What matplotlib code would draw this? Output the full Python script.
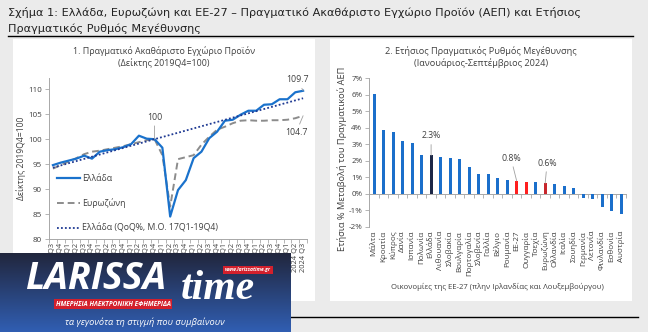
import numpy as np
import matplotlib
matplotlib.use('Agg')
import matplotlib.pyplot as plt
from matplotlib.patches import Rectangle
from matplotlib.lines import Line2D

plt.rcParams['font.family'] = ['Open Sans', 'DejaVu Sans']

# ---- δεδομένα: γράφημα 1 (δείκτης 2019Q4=100) ----
quarters = [f"{2016 + (q + 2) // 4} Q{(q + 2) % 4 + 1}" for q in range(33)]
greece = [94.8, 95.3, 95.7, 96.1, 96.7, 96.1, 97.5, 97.8, 98.0, 98.4, 99.0,
          100.7, 100.1, 100.0, 98.3, 84.5, 89.8, 91.8, 96.2, 97.5, 100.2,
          101.5, 103.7, 103.9, 104.9, 105.7, 105.7, 106.9, 107.0, 108.0,
          108.0, 109.4, 109.7]
eurozone = [94.1, 94.8, 95.5, 96.2, 97.0, 97.5, 97.7, 98.0, 98.3, 98.6, 99.0,
            99.4, 99.8, 100.0, 96.8, 86.5, 96.0, 96.4, 96.8, 98.9, 100.5,
            101.9, 102.5, 103.2, 103.7, 103.8, 103.7, 103.7, 103.8, 103.8,
            103.9, 104.2, 104.7]
trend_idx = [0, 13, 32]
trend_val = [94.3, 100.0, 108.2]

# ---- δεδομένα: γράφημα 2 (ετήσια % μεταβολή) ----
countries = ['Μάλτα', 'Κροατία', 'Κύπρος', 'Δανία', 'Ισπανία', 'Πολωνία',
             'Ελλάδα', 'Λιθουανία', 'Σλοβακία', 'Βουλγαρία', 'Πορτογαλία',
             'Σλοβενία', 'Γαλλία', 'Βέλγιο', 'Ρουμανία', 'ΕΕ-27', 'Ουγγαρία',
             'Τσεχία', 'Ευρωζώνη', 'Ολλανδία', 'Ιταλία', 'Σουηδία',
             'Γερμανία', 'Λετονία', 'Φινλανδία', 'Εσθονία', 'Αυστρία']
growth = [6.06, 3.86, 3.72, 3.19, 3.05, 2.34, 2.32, 2.20, 2.13, 2.07, 1.60,
          1.18, 1.16, 0.93, 0.83, 0.77, 0.71, 0.69, 0.63, 0.57, 0.45, 0.35,
          -0.24, -0.30, -0.79, -1.08, -1.24]
special = {'Ελλάδα': '#1c2747', 'ΕΕ-27': '#ff1f1f', 'Ουγγαρία': '#ff1f1f',
           'Ευρωζώνη': '#c8262c'}

W, H = 648, 332
TXT = '#404040'
AX = '#a8a8a8'


def box(l, t, r, b):
    return [l / W, 1 - b / H, (r - l) / W, (b - t) / H]


def ft(x, y, s, **kw):
    kw.setdefault('ha', 'center')
    kw.setdefault('va', 'center')
    return fig.text(x / W, 1 - y / H, s, **kw)


fig = plt.figure(figsize=(W / 100, H / 100), dpi=100)
fig.patch.set_facecolor('#ebebeb')

# επικεφαλίδα
ft(8, 12, 'Σχήμα 1: Ελλάδα, Ευρωζώνη και ΕΕ-27 – Πραγματικό Ακαθάριστο Εγχώριο Προϊόν (ΑΕΠ) και Ετήσιος',
   ha='left', fontsize=8.15, family='DejaVu Sans', color='#222222')
ft(8, 29, 'Πραγματικός Ρυθμός Μεγέθυνσης', ha='left', fontsize=8.15,
   family='DejaVu Sans', color='#222222')
fig.add_artist(Line2D([8 / W, 633 / W], [1 - 36 / H] * 2, color='black', lw=1))
fig.add_artist(Line2D([8 / W, 638 / W], [1 - 317 / H] * 2, color='black', lw=1))

for l, r in [(13, 315), (330, 632)]:
    fig.add_artist(Rectangle((l / W, 1 - 301 / H), (r - l) / W, (301 - 39) / H,
                             transform=fig.transFigure, facecolor='white',
                             edgecolor='none', zorder=-5))

# ---- γράφημα 1 ----
ax1 = fig.add_axes(box(49, 78.3, 307, 239))
ax1.set_facecolor('none')
x = np.arange(len(quarters))
ax1.plot(x, greece, color='#1a72cc', lw=1.6, label='Ελλάδα', zorder=3)
ax1.plot(x, eurozone, color='#8c8c8c', lw=1.4, ls=(0, (3.5, 2)), label='Ευρωζώνη', zorder=2)
ax1.plot(trend_idx, trend_val, color='#1f3a93', lw=1.3, ls=(0, (1, 1.2)),
         label='Ελλάδα (QoQ%, M.O. 17Q1-19Q4)', zorder=4)
ax1.set_xlim(-0.5, len(quarters) - 0.5)
ax1.set_ylim(80, 112.2)
ax1.set_yticks(range(80, 111, 5))
ax1.set_xticks(x)
ax1.set_xticklabels(quarters, rotation=90, fontsize=5.4, color=TXT)
ax1.set_xticks(np.arange(-0.5, len(quarters)), minor=True)
ax1.tick_params(axis='x', which='major', length=0, pad=3)
ax1.tick_params(axis='x', which='minor', length=3, color=AX, width=0.6)
ax1.tick_params(axis='y', labelsize=5.8, labelcolor=TXT, length=3, color=AX,
                width=0.6, pad=2)
for s in ['top', 'right']:
    ax1.spines[s].set_visible(False)
for s in ['left', 'bottom']:
    ax1.spines[s].set_color(AX)
    ax1.spines[s].set_linewidth(0.7)
leg = ax1.legend(loc='upper left', bbox_to_anchor=(57 / W, 1 - 174 / H),
                 bbox_transform=fig.transFigure, frameon=False, fontsize=6.3,
                 handlelength=2.6, handletextpad=0.3, labelspacing=1.75,
                 borderpad=0, borderaxespad=0)
for t in leg.get_texts():
    t.set_color(TXT)
lead = dict(arrowstyle='-', color='#a0a0a0', lw=0.6, shrinkA=1, shrinkB=0)
ax1.annotate('100', xy=(13, greece[13]), xytext=(13, 104.4), ha='center',
             va='center', fontsize=6.3, color=TXT, arrowprops=lead)
ax1.annotate('109.7', xy=(32, greece[-1]), xytext=(31.3, 111.9), ha='center',
             va='center', fontsize=6.3, color=TXT, arrowprops=lead,
             annotation_clip=False)
ax1.annotate('104.7', xy=(32, eurozone[-1]), xytext=(31.1, 101.3), ha='center',
             va='center', fontsize=6.3, color=TXT, arrowprops=lead)
ft(164, 51.5, '1. Πραγματικό Ακαθάριστο Εγχώριο Προϊόν', fontsize=6.4, color=TXT)
ft(164, 63, '(Δείκτης 2019Q4=100)', fontsize=6.4, color=TXT)
ft(21, 158, 'Δείκτης 2019Q4=100', rotation=90, fontsize=6.2, color=TXT)

# ---- γράφημα 2 ----
ax2 = fig.add_axes(box(369.3, 78.3, 626, 226.5))
ax2.set_facecolor('none')
xc = np.arange(len(countries))
cols = [special.get(c, '#1b6fcb') for c in countries]
ax2.bar(xc, growth, width=0.32, color=cols, zorder=3)
ax2.set_xlim(-0.5, len(countries) - 0.5)
ax2.set_ylim(-2, 7)
ax2.set_yticks(range(-2, 8))
ax2.set_yticklabels([f'{v}%' for v in range(-2, 8)])
ax2.set_xticks(xc)
ax2.set_xticklabels(countries, rotation=90, fontsize=5.8, color=TXT)
ax2.tick_params(axis='x', length=0, pad=3)
ax2.tick_params(axis='y', labelsize=5.8, labelcolor=TXT, length=3, color=AX,
                width=0.6, pad=2)
for s in ['top', 'right', 'bottom']:
    ax2.spines[s].set_visible(False)
ax2.spines['left'].set_color(AX)
ax2.spines['left'].set_linewidth(0.7)
zero = ax2.secondary_xaxis(2 / 9)
zero.set_xticks(np.arange(-0.5, len(countries)))
zero.set_xticklabels([])
zero.tick_params(length=3, color=AX, width=0.6)
zero.spines['bottom'].set_color(AX)
zero.spines['bottom'].set_linewidth(0.7)
ax2.annotate('2.3%', xy=(6, growth[6]), xytext=(6, 3.5), ha='center', va='center',
             fontsize=6.3, color=TXT, arrowprops=lead)
ax2.annotate('0.8%', xy=(15, growth[15]), xytext=(14.4, 2.15), ha='center',
             va='center', fontsize=6.3, color=TXT, arrowprops=lead)
ax2.annotate('0.6%', xy=(18, growth[18]), xytext=(18.2, 1.85), ha='center',
             va='center', fontsize=6.3, color=TXT, arrowprops=lead)
ft(481, 51, '2. Ετήσιος Πραγματικός Ρυθμός Μεγέθυνσης', fontsize=6.6, color=TXT)
ft(481, 63, '(Ιανουάριος-Σεπτέμβριος 2024)', fontsize=6.6, color=TXT)
ft(342, 159, 'Ετήσια % Μεταβολή του Πραγματικού ΑΕΠ', rotation=90, fontsize=6.7, color=TXT)
ft(497, 287, 'Οικονομίες της ΕΕ-27 (πλην Ιρλανδίας και Λουξεμβούργου)', fontsize=5.6, color=TXT)

# ---- λογότυπο ----
axl = fig.add_axes(box(0, 253, 291, 332), zorder=5)
grad = np.linspace(0, 1, 100)[:, None]
top, bot = np.array([0.13, 0.15, 0.24]), np.array([0.19, 0.37, 0.70])
img = top[None, None, :] * (1 - grad[..., None]) + bot[None, None, :] * grad[..., None]
axl.imshow(img, aspect='auto', extent=(0, 1, 0, 1))
axl.set_axis_off()
kw = dict(color='white', zorder=10)
ft(96, 279, 'LARISSA', fontsize=27, weight='bold', style='italic', **kw)
ft(218, 289, 'time', fontsize=30, family='Liberation Serif', style='italic', weight='bold', **kw)
ft(248, 270, 'www.larissatime.gr', fontsize=3.6, weight='bold', style='italic',
   bbox=dict(facecolor='#d3202c', edgecolor='none', pad=1.2), **kw)
ft(113, 304, 'ΗΜΕΡΗΣΙΑ ΗΛΕΚΤΡΟΝΙΚΗ ΕΦΗΜΕΡΙΔΑ', fontsize=4.7, weight='bold', style='italic',
   bbox=dict(facecolor='#d3202c', edgecolor='none', pad=1.2), **kw)
ft(145, 322, 'τα γεγονότα τη στιγμή που συμβαίνουν', fontsize=6.7, style='italic', **kw)

fig.savefig('out.png', dpi=100, facecolor=fig.get_facecolor())
